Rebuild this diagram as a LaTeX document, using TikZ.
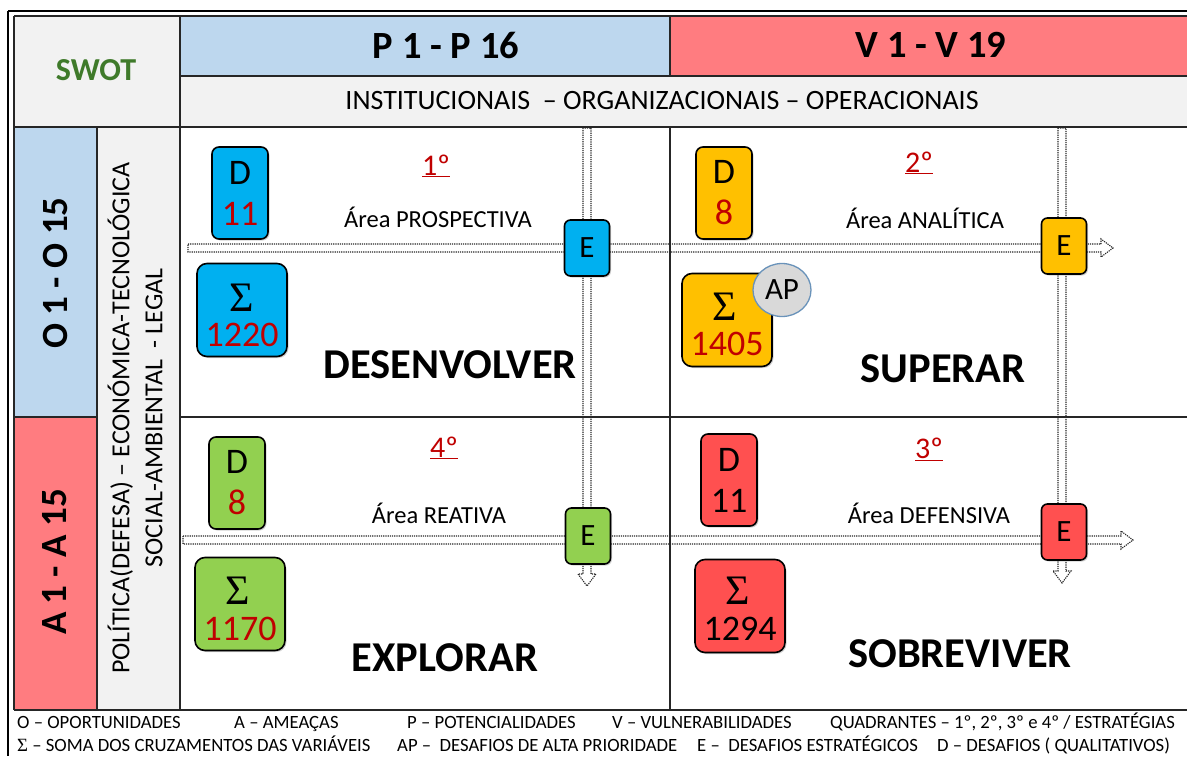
\documentclass[tikz,border=0pt]{standalone}
\usepackage{fontspec}
\setmainfont{Carlito}
\newfontfamily\sigmafont{Liberation Serif}
\usetikzlibrary{calc,shadows,shapes.geometric}
\definecolor{hgrey}{HTML}{F2F2F2}
\definecolor{hblue}{HTML}{BDD7EE}
\definecolor{hred}{HTML}{FF7C80}
\definecolor{qblue}{HTML}{00B0F0}
\definecolor{qyellow}{HTML}{FFC000}
\definecolor{qgreen}{HTML}{92D050}
\definecolor{qred}{HTML}{FF5050}
\definecolor{numred}{HTML}{C00000}
\definecolor{swotgreen}{HTML}{3F7A2A}
\definecolor{apborder}{HTML}{6A93BA}
\definecolor{apfill}{HTML}{D9D9D9}
\newcommand\hblock[2]{\draw[arrowline] let \p1=(#1), \p2=(#2) in (\x1,\y1+4pt) -- (\x2-12pt,\y1+4pt) -- (\x2-12pt,\y1+9pt) -- (\x2,\y1) -- (\x2-12pt,\y1-9pt) -- (\x2-12pt,\y1-4pt) -- (\x1,\y1-4pt) -- cycle;}
\newcommand\vblock[2]{\draw[arrowline] let \p1=(#1), \p2=(#2) in (\x1-4pt,\y1) -- (\x1-4pt,\y2+12pt) -- (\x1-9pt,\y2+12pt) -- (\x1,\y2) -- (\x1+9pt,\y2+12pt) -- (\x1+4pt,\y2+12pt) -- (\x1+4pt,\y1) -- cycle;}
\newcommand\sig{{\sigmafont Σ}}
\begin{document}
\begin{tikzpicture}[x=1pt,y=-1pt,
  gridline/.style={line width=1.3pt, draw=black!85},
  arrowline/.style={line width=1.1pt, draw=black!85, dash pattern=on 1.2pt off 1pt},
  boxbase/.style={draw=black, line width=1.6pt, rounded corners=7pt, align=center, inner sep=0pt,
     drop shadow={shadow xshift=1.5pt, shadow yshift=-1.5pt, opacity=0.35}},
  dbox/.style={boxbase, minimum width=56pt, minimum height=92pt, font=\fontsize{36}{41}\selectfont},
  sbox/.style={boxbase, minimum width=90pt, minimum height=93pt, rounded corners=10pt},
  sigtext/.style={inner sep=0pt, font=\fontsize{42}{42}\selectfont},
  sumtext/.style={inner sep=0pt, font=\fontsize{36}{36}\selectfont},
  ebox/.style={boxbase, minimum width=45pt, minimum height=56pt, rounded corners=6pt, font=\fontsize{31}{32}\selectfont},
  qnum/.style={text=numred, font=\fontsize{30}{32}\selectfont},
  qarea/.style={font=\fontsize{24.5}{27}\selectfont},
  qname/.style={font=\fontsize{42.5}{45}\selectfont\bfseries},
  legend/.style={anchor=base west, inner sep=0pt, font=\fontsize{18.7}{20}\selectfont}]
\useasboundingbox (0,0) rectangle (1187,756);
\fill[white] (0,0) rectangle (1187,756);
% cell fills
\fill[hgrey] (14,16) rectangle (180,127);
\fill[hblue] (180,16) rectangle (670,76);
\fill[hred] (670,16) rectangle (1187,76);
\fill[hgrey] (180,76) rectangle (1187,127);
\fill[hblue] (14,127) rectangle (97,417);
\fill[hred] (14,417) rectangle (97,710);
\fill[hgrey] (97,127) rectangle (180,710);
% grid
\draw[gridline] (14,16) -- (1187,16);
\draw[gridline] (180,76) -- (1187,76);
\draw[gridline] (14,127) -- (1187,127);
\draw[gridline] (14,417) -- (97,417);
\draw[gridline] (180,417) -- (1187,417);
\draw[gridline] (14,710) -- (1187,710);
\draw[gridline] (14,16) -- (14,710);
\draw[gridline] (180,16) -- (180,710);
\draw[gridline] (97,127) -- (97,710);
\draw[gridline] (670,16) -- (670,76);
\draw[gridline] (670,127) -- (670,710);
% outer frame
\draw[line width=2.6pt] (8,11) -- (1187,11);
\draw[line width=2.6pt] (8,11) -- (8,756);
% headers
\node[text=swotgreen, font=\fontsize{32}{34}\selectfont\bfseries] (swot) at (96,70) {SWOT};
\node[font=\fontsize{38.5}{40}\selectfont\bfseries] (ph) at (446,45) {P 1 - P 16};
\node[font=\fontsize{38.5}{40}\selectfont\bfseries] (vh) at (931,45) {V 1 - V 19};
\node[font=\fontsize{28}{30}\selectfont] (inst) at (662,101) {INSTITUCIONAIS \ – ORGANIZACIONAIS – OPERACIONAIS};
\node[rotate=90, font=\fontsize{37}{40}\selectfont\bfseries] (oh) at (55,273) {O 1 - O 15};
\node[rotate=90, font=\fontsize{37}{40}\selectfont\bfseries] (ah) at (55,562) {A 1 - A 15};
\node[rotate=90, align=center, font=\fontsize{26}{33}\selectfont] (env) at (135,418) {POLÍTICA(DEFESA) – ECONÓMICA-TECNOLÓGICA\\SOCIAL-AMBIENTAL \ - LEGAL};
% dotted arrows
\coordinate (h1s) at (188,248);
\coordinate (h1e) at (1113,248);
\coordinate (h2s) at (183,540);
\coordinate (h2e) at (1133,540);
\coordinate (v1s) at (587,128);
\coordinate (v1e) at (587,586);
\coordinate (v2s) at (1062,128);
\coordinate (v2e) at (1062,583);
\hblock{h1s}{h1e}
\hblock{h2s}{h2e}
\vblock{v1s}{v1e}
\vblock{v2s}{v2e}
% quadrant 1
\node[dbox, fill=qblue] (d1) at (240,193) {D\\\textcolor{numred}{11}};
\node[sbox, fill=qblue] (s1) at (242,310) {};
\node[sigtext] (s1g) at ($(s1)+(0,-12)$) {\sig};
\node[sumtext, text=numred] (s1n) at ($(s1)+(0,25)$) {1220};
\node[ebox, fill=qblue] (e1) at (587,248) {E};
\node[qnum] (n1) at (436,166) {\underline{1º}};
\node[qarea] (a1) at (438,217) {Área PROSPECTIVA};
\node[qname] (t1) at (450,365) {DESENVOLVER};
% quadrant 2
\node[dbox, fill=qyellow] (d2) at (724,193) {D\\\textcolor{numred}{8}};
\node[sbox, fill=qyellow] (s2) at (727,320) {};
\node[sigtext] (s2g) at ($(s2)+(-2,-13)$) {\sig};
\node[sumtext, text=numred] (s2n) at ($(s2)+(0,24)$) {1405};
\node[ellipse, draw=apborder, fill=apfill, line width=1.3pt, minimum width=58pt, minimum height=53pt, inner sep=0pt, font=\fontsize{31}{32}\selectfont] (ap) at (782,290) {AP};
\node[ebox, fill=qyellow] (e2) at (1064,246) {E};
\node[qnum] (n2) at (919,163) {\underline{2º}};
\node[qarea] (a2) at (925,218) {Área ANALÍTICA};
\node[qname] (t2) at (943,369) {SUPERAR};
% quadrant 4
\node[dbox, fill=qgreen] (d4) at (237,483) {D\\\textcolor{numred}{8}};
\node[sbox, fill=qgreen] (s4) at (240,604) {};
\node[sigtext] (s4g) at ($(s4)+(-2,-13)$) {\sig};
\node[sumtext, text=numred] (s4n) at ($(s4)+(0,25)$) {1170};
\node[ebox, fill=qgreen] (e4) at (588,536) {E};
\node[qnum] (n4) at (444,448) {\underline{4º}};
\node[qarea] (a4) at (439,513) {Área REATIVA};
\node[qname] (t4) at (445,658) {EXPLORAR};
% quadrant 3
\node[dbox, fill=qred] (d3) at (729,480) {D\\11};
\node[sbox, fill=qred] (s3) at (740,606) {};
\node[sigtext] (s3g) at ($(s3)+(-2,-15)$) {\sig};
\node[sumtext] (s3n) at ($(s3)+(0,23)$) {1294};
\node[ebox, fill=qred] (e3) at (1064,532) {E};
\node[qnum] (n3) at (929,449) {\underline{3º}};
\node[qarea] (a3) at (929,513) {Área DEFENSIVA};
\node[qname] (t3) at (960,654) {SOBREVIVER};
% legend
\node[legend] (l1) at (17,728) {O – OPORTUNIDADES};
\node[legend] (l2) at (234,728) {A – AMEAÇAS};
\node[legend] (l3) at (407,728) {P – POTENCIALIDADES};
\node[legend] (l4) at (612,728) {V – VULNERABILIDADES};
\node[legend] (l5) at (830,728) {QUADRANTES – 1º, 2º, 3º e 4º / ESTRATÉGIAS};
\node[legend] (l6) at (17,751) {\sig\ – SOMA DOS CRUZAMENTOS DAS VARIÁVEIS};
\node[legend] (l7) at (397,751) {AP – \ DESAFIOS DE ALTA PRIORIDADE};
\node[legend] (l8) at (697,751) {E – \ DESAFIOS ESTRATÉGICOS};
\node[legend] (l9) at (937,751) {D – DESAFIOS ( QUALITATIVOS)};
\end{tikzpicture}
\end{document}
